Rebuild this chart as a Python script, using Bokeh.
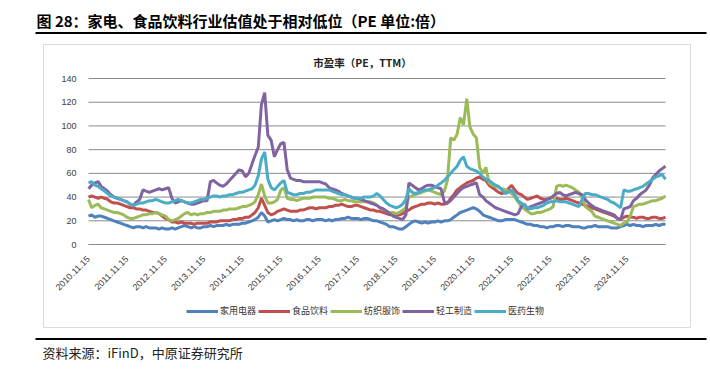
import math
import pandas as pd
from bokeh.plotting import figure
from bokeh.models import (Label, BoxAnnotation, Legend, LegendItem, FixedTicker,
                          DatetimeTickFormatter, Range1d)
from bokeh.embed import file_html
from bokeh.resources import INLINE

# ---------------- data (monthly) ----------------
start_date = "2010-11-15"
n_points = 181

series_names = ["家用电器", "食品饮料", "纺织服饰", "轻工制造", "医药生物"]
series_colors = ["#4F81BD", "#C0504D", "#9BBB59", "#8064A2", "#4BACC6"]

home_appliance = [
    24, 25, 23, 24, 24, 23, 22, 21, 20, 19, 18, 17,
    16, 15, 14, 15, 15, 14, 15, 14, 14, 14, 13, 14,
    13, 13, 14, 13, 14, 15, 16, 15, 14, 15, 14, 14,
    15, 15, 16, 15, 16, 16, 16, 17, 16, 17, 17, 17,
    18, 18, 19, 20, 21, 23, 27, 24, 19, 20, 21, 20,
    21, 22, 21, 21, 20, 21, 20, 20, 21, 21, 20, 21,
    21, 21, 20, 21, 20, 21, 21, 22, 22, 23, 22, 22,
    22, 21, 22, 22, 21, 20, 20, 19, 18, 17, 15, 15,
    14, 13, 13, 15, 17, 19, 20, 19, 18, 19, 18, 19,
    19, 20, 19, 20, 20, 21, 23, 25, 27, 28, 29, 30,
    31, 30, 28, 25, 24, 23, 22, 21, 20, 20, 21, 21,
    21, 21, 20, 19, 18, 17, 17, 16, 16, 15, 15, 14,
    15, 15, 16, 16, 15, 16, 16, 15, 15, 15, 14, 14,
    15, 15, 16, 15, 15, 15, 15, 14, 14, 14, 15, 16,
    17, 16, 17, 16, 16, 15, 16, 16, 16, 17, 16, 17, 17,
]
food_beverage = [
    40, 41, 40, 39, 40, 39, 38, 36, 35, 35, 34, 33,
    32, 31, 31, 30, 30, 29, 29, 28, 27, 27, 26, 24,
    22, 21, 19, 19, 18, 19, 18, 18, 18, 17, 18, 18,
    18, 18, 19, 19, 19, 20, 20, 20, 20, 21, 21, 22,
    22, 23, 23, 25, 27, 31, 39, 33, 27, 25, 26, 28,
    29, 30, 29, 28, 28, 28, 29, 29, 30, 31, 31, 30,
    31, 31, 31, 32, 32, 33, 33, 34, 33, 32, 32, 33,
    33, 32, 31, 30, 29, 29, 28, 28, 27, 26, 25, 26,
    25, 25, 26, 28, 29, 31, 32, 33, 34, 34, 35, 35,
    34, 35, 34, 34, 35, 39, 42, 46, 48, 50, 52, 53,
    54, 56, 57, 55, 54, 50, 48, 46, 44, 43, 44, 47,
    50, 46, 43, 42, 40, 38, 39, 40, 41, 39, 38, 38,
    39, 40, 39, 38, 38, 39, 38, 37, 36, 35, 34, 33,
    32, 31, 30, 29, 28, 27, 26, 25, 24, 22, 21, 23,
    24, 23, 23, 22, 23, 23, 22, 22, 23, 23, 22, 22, 23,
]
textile_apparel = [
    38, 31, 33, 34, 31, 30, 29, 28, 27, 27, 26, 25,
    23, 22, 22, 23, 24, 25, 25, 26, 26, 27, 26, 25,
    24, 21, 20, 21, 22, 24, 26, 27, 25, 26, 25, 26,
    26, 27, 27, 28, 28, 28, 29, 29, 30, 30, 30, 31,
    32, 32, 33, 34, 36, 42, 51, 41, 35, 35, 36, 38,
    46, 48, 39, 38, 38, 37, 38, 39, 39, 39, 40, 40,
    40, 40, 40, 39, 39, 38, 37, 37, 38, 37, 37, 36,
    36, 36, 36, 36, 36, 35, 33, 31, 30, 28, 27, 27,
    26, 27, 29, 31, 40, 41, 42, 43, 44, 45, 46, 45,
    44, 43, 42, 45, 54, 90, 88, 93, 107, 101, 123, 99,
    93, 90, 65, 60, 65, 52, 50, 49, 48, 47, 46, 45,
    43, 40, 36, 32, 30, 28, 26, 26, 27, 27, 28, 29,
    30, 32, 49, 50, 49, 50, 49, 48, 46, 44, 40, 32,
    30, 28, 24, 23, 22, 21, 20, 19, 18, 17, 16, 18,
    19, 24, 32, 33, 34, 34, 35, 36, 37, 37, 38, 39, 41,
]
light_industry = [
    47, 50, 52, 53, 49, 47, 45, 42, 40, 39, 38, 37,
    36, 34, 33, 36, 38, 46, 45, 44, 45, 46, 47, 46,
    47, 48, 39, 35, 36, 37, 36, 35, 34, 34, 35, 36,
    37, 37, 53, 54, 52, 50, 49, 51, 54, 57, 60, 63,
    62, 57, 60, 68, 75, 82, 118, 128, 92, 88, 74, 80,
    85, 86, 63, 56, 55, 54, 54, 53, 53, 53, 53, 53,
    53, 52, 51, 48, 47, 46, 45, 43, 42, 41, 40, 39,
    39, 38, 37, 36, 35, 34, 33, 31, 30, 28, 26, 24,
    23, 22, 21, 25, 52, 50, 48, 46, 47, 49, 50, 50,
    49, 48, 47, 36, 35, 37, 40, 43, 46, 48, 49, 50,
    51, 52, 42, 40, 37, 35, 33, 31, 30, 29, 28, 27,
    26, 25, 26, 32, 34, 30, 32, 33, 34, 35, 36, 38,
    39, 41, 43, 44, 42, 41, 42, 43, 44, 43, 42, 38,
    35, 33, 31, 30, 29, 28, 27, 26, 25, 22, 21, 30,
    31, 32, 37, 39, 42, 44, 46, 50, 56, 59, 62, 64, 66,
]
pharma_bio = [
    52, 53, 50, 49, 47, 45, 43, 41, 40, 39, 38, 37,
    36, 34, 33, 34, 35, 35, 36, 37, 37, 38, 37, 36,
    35, 35, 36, 37, 38, 37, 36, 35, 35, 36, 37, 38,
    38, 39, 40, 41, 41, 40, 41, 41, 42, 42, 43, 44,
    44, 45, 46, 47, 50, 58, 72, 78, 55, 48, 46, 49,
    52, 54, 44, 43, 42, 42, 43, 43, 44, 44, 45, 46,
    46, 46, 46, 46, 45, 44, 43, 42, 42, 41, 40, 39,
    39, 39, 40, 40, 40, 41, 43, 41, 38, 35, 33, 32,
    31, 32, 34, 38, 47, 44, 43, 44, 45, 46, 46, 47,
    48, 50, 52, 54, 57, 60, 63, 66, 71, 74, 66, 64,
    63, 62, 60, 57, 55, 54, 52, 50, 49, 46, 43, 44,
    46, 42, 37, 35, 33, 31, 30, 31, 31, 32, 33, 35,
    36, 36, 37, 36, 36, 36, 35, 34, 33, 32, 38, 43,
    43, 42, 42, 41, 40, 39, 38, 36, 35, 33, 31, 46,
    45, 45, 46, 47, 48, 49, 51, 53, 55, 57, 58, 59, 55,
]

x_tick_labels = ["2010.11.15", "2011.11.15", "2012.11.15", "2013.11.15", "2014.11.15",
                 "2015.11.15", "2016.11.15", "2017.11.15", "2018.11.15", "2019.11.15",
                 "2020.11.15", "2021.11.15", "2022.11.15", "2023.11.15", "2024.11.15"]
y_ticks = [0, 20, 40, 60, 80, 100, 120, 140]

main_title = "图 28：家电、食品饮料行业估值处于相对低位（PE 单位:倍）"
chart_title = "市盈率（PE，TTM）"
source_text = "资料来源：iFinD，中原证券研究所"

# ---------------- layout (page pixels; Bokeh's page template has no body margin) ----------------
W, H = 708, 377
PLOT_L, PLOT_R = 88, 665        # page x of first / last data point
PLOT_T, PLOT_B = 78, 244        # page y of 140 / 0

dates = pd.date_range(start_date, periods=n_points, freq=pd.DateOffset(months=1))
all_series = [home_appliance, food_beverage, textile_apparel, light_industry, pharma_bio]

t0 = dates[0].value / 1e6
t1 = dates[-1].value / 1e6
ms_per_px = (t1 - t0) / (PLOT_R - PLOT_L)
x_start = t0 - PLOT_L * ms_per_px
x_end = t1 + (W - PLOT_R) * ms_per_px
y_top_val = y_ticks[-1]
u_per_px = y_top_val / (PLOT_B - PLOT_T)
y_end = y_top_val + PLOT_T * u_per_px
y_start = -(H - PLOT_B) * u_per_px

p = figure(width=W, height=H, output_backend="svg", toolbar_location=None, title=None,
           x_axis_type="datetime",
           x_range=Range1d(x_start, x_end), y_range=Range1d(y_start, y_end),
           min_border=0, min_border_left=0, min_border_right=0,
           min_border_top=0, min_border_bottom=0,
           outline_line_color=None, background_fill_color="white", border_fill_color="white")

CJK = "Noto Sans CJK SC"

# gridlines restricted to the plotting region
p.xgrid.visible = False
p.ygrid.visible = False
p.segment(x0=[dates[0]] * len(y_ticks), x1=[dates[-1]] * len(y_ticks),
          y0=y_ticks, y1=y_ticks, line_color="#8a8a8a", line_width=1)

# axes drawn at fixed locations inside the canvas
tick_ms = [pd.Timestamp(pd.to_datetime(t, format="%Y.%m.%d")).value / 1e6 for t in x_tick_labels]
xa = p.xaxis[0]
xa.fixed_location = 0
xa.bounds = (t0, t1)
xa.ticker = FixedTicker(ticks=tick_ms)
fmt = "%Y.%m.%d"
xa.formatter = DatetimeTickFormatter(microseconds=fmt, milliseconds=fmt, seconds=fmt,
                                     minsec=fmt, minutes=fmt, hourmin=fmt, hours=fmt,
                                     days=fmt, months=fmt, years=fmt)
xa.major_label_orientation = math.pi / 4
xa.major_label_text_font_size = "9px"
xa.major_label_text_color = "#404040"
xa.major_label_text_font = "Liberation Sans"
xa.axis_line_color = "#8a8a8a"
xa.major_tick_line_color = None
xa.minor_tick_line_color = None
xa.major_label_standoff = 7

ya = p.yaxis[0]
ya.fixed_location = t0
ya.ticker = FixedTicker(ticks=y_ticks)
ya.major_label_text_font_size = "9px"
ya.major_label_text_color = "#404040"
ya.major_label_text_font = "Liberation Sans"
ya.axis_line_color = None
ya.major_tick_line_color = None
ya.minor_tick_line_color = None
ya.major_label_standoff = 6

renderers = []
for name, color, vals in zip(series_names, series_colors, all_series):
    r = p.line(dates, vals, line_color=color, line_width=3)
    renderers.append((name, r))

# frame == canvas at page (0, 0); screen coords: x = pageX, y = H - pageY
def sx(px):
    return px

def sy(py):
    return H - py

legend = Legend(items=[LegendItem(label=n, renderers=[r]) for n, r in renderers],
                orientation="horizontal", location=(sx(186), sy(317)),
                glyph_width=32, glyph_height=10, label_standoff=2, spacing=2,
                padding=0, margin=0, border_line_color=None, background_fill_alpha=0,
                label_text_font_size="9px", label_text_font=CJK, label_text_color="#333333")
p.add_layout(legend)

# gray chart box
p.add_layout(BoxAnnotation(left=sx(43), right=sx(690), top=sy(44), bottom=sy(327),
                           left_units="screen", right_units="screen",
                           top_units="screen", bottom_units="screen",
                           fill_alpha=0, line_color="#8c8c8c", line_width=1))
# black rules
p.add_layout(BoxAnnotation(left=sx(35), right=sx(706), top=sy(31.5), bottom=sy(33.5),
                           left_units="screen", right_units="screen",
                           top_units="screen", bottom_units="screen",
                           fill_color="black", fill_alpha=1, line_color=None))
p.add_layout(BoxAnnotation(left=sx(35), right=sx(706), top=sy(337.5), bottom=sy(339.5),
                           left_units="screen", right_units="screen",
                           top_units="screen", bottom_units="screen",
                           fill_color="black", fill_alpha=1, line_color=None))

p.add_layout(Label(x=sx(36), y=sy(20), x_units="screen", y_units="screen", text=main_title,
                   text_font=CJK, text_font_size="15px", text_font_style="bold",
                   text_baseline="middle", text_color="black"))
p.add_layout(Label(x=sx(362), y=sy(62), x_units="screen", y_units="screen", text=chart_title,
                   text_font=CJK, text_font_size="10.5px", text_font_style="bold",
                   text_align="center", text_baseline="middle", text_color="#222222"))
p.add_layout(Label(x=sx(42), y=sy(352), x_units="screen", y_units="screen", text=source_text,
                   text_font=CJK, text_font_size="13px",
                   text_baseline="middle", text_color="#222222"))

open("out.html", "w").write(file_html(p, INLINE))
